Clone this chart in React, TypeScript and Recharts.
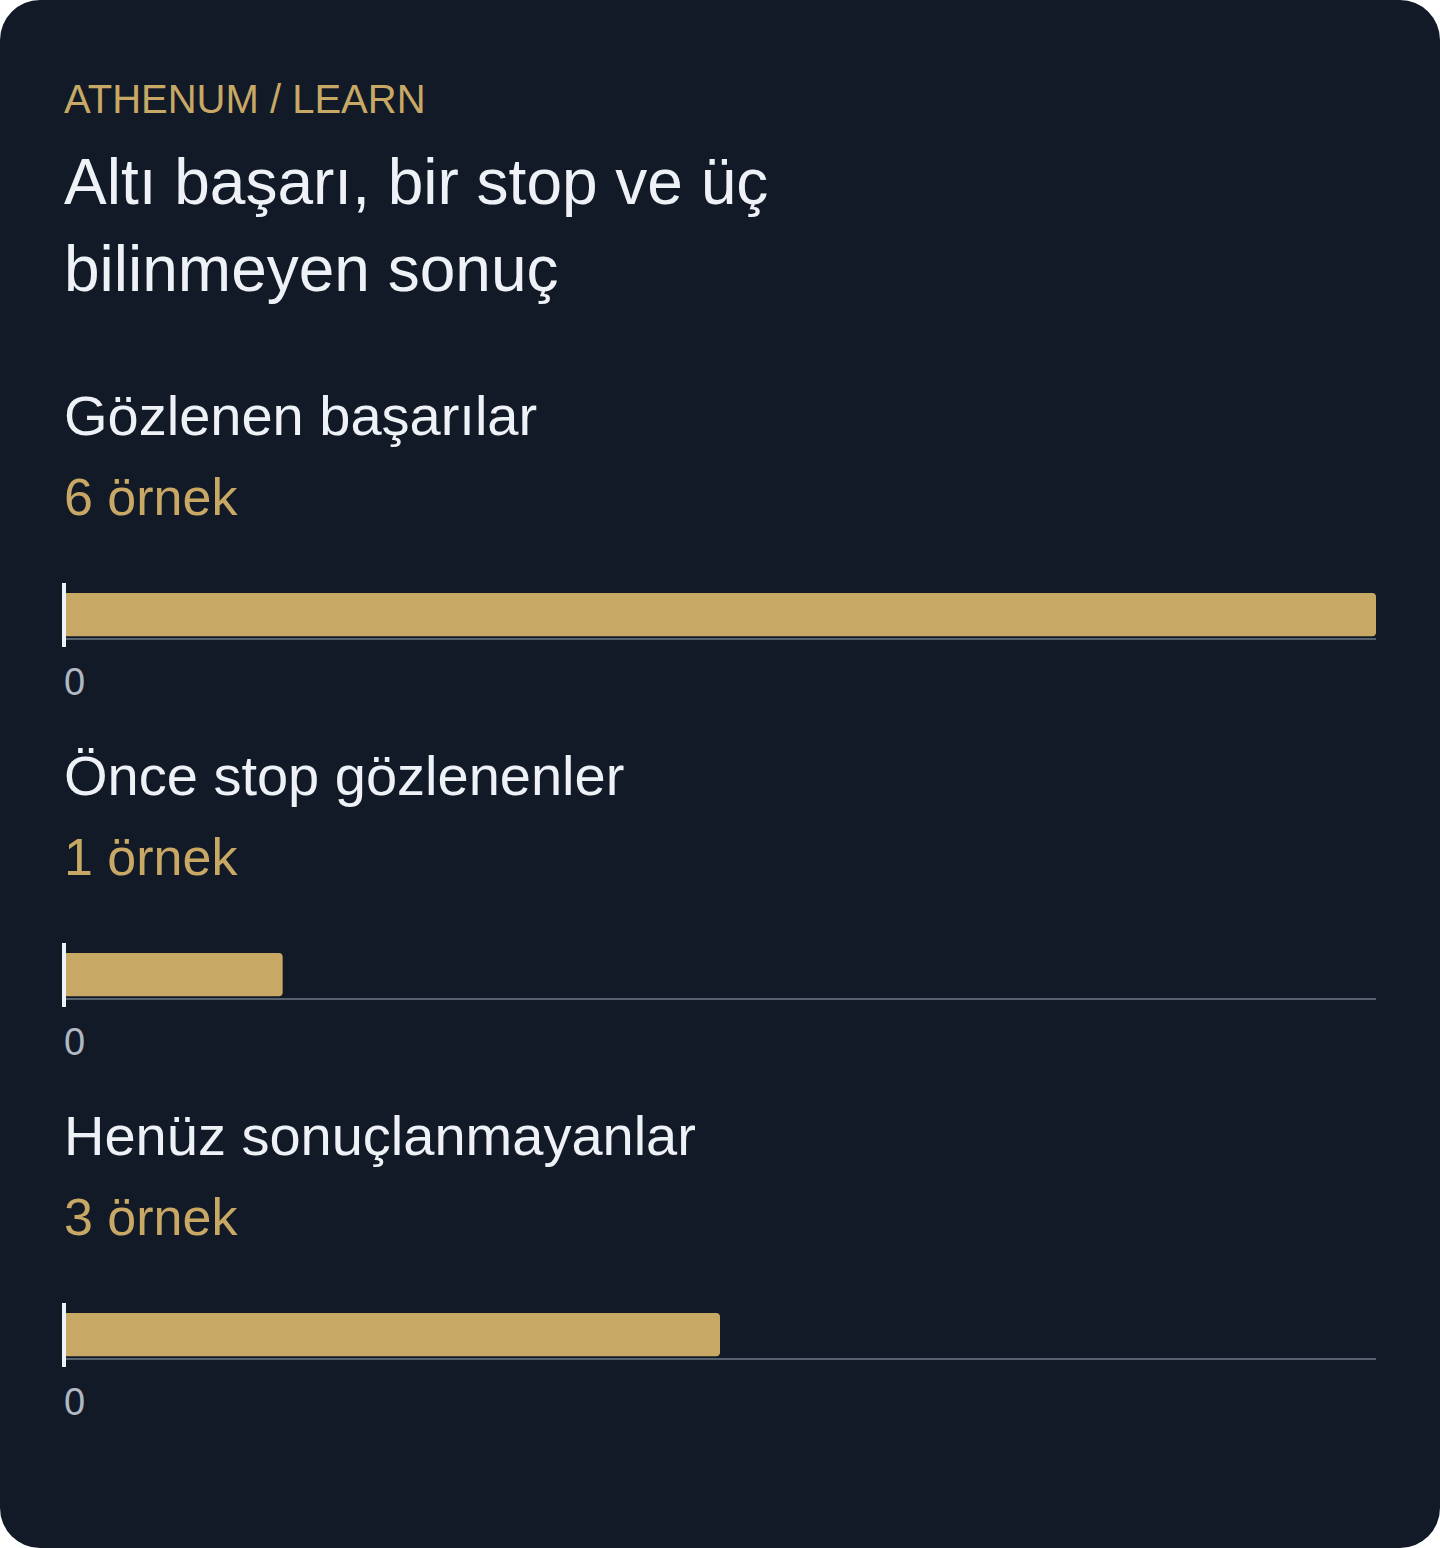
import React from 'react';
import { BarChart, Bar, XAxis, YAxis, ReferenceLine } from 'recharts';

// Sonuç grupları ve örnek sayıları
const groupNames = ['Gözlenen başarılar', 'Önce stop gözlenenler', 'Henüz sonuçlanmayanlar'];
const groupCounts = [6, 1, 3];
const xTicks = [0];
const xMax = 6;

const GOLD = '#c8a865';
const BG = '#131a27';
const TEXT = '#eef2f7';
const MUTED = '#b0b8c4';
const AXIS = '#56606e';

const ZeroMarker = (props: any) => {
  const { x1, y1, x2, y2 } = props;
  return (
    <line x1={x1} x2={x2} y1={Math.min(y1, y2) - 8} y2={Math.max(y1, y2) + 8} stroke={TEXT} strokeWidth={4} />
  );
};

const GroupChart = ({ name, count }: { name: string; count: number }) => {
  const data = [{ name, value: count }];
  return (
    <div style={{ height: 360 }}>
      <div style={{ fontSize: 56, lineHeight: '64px', color: TEXT }}>{name}</div>
      <div style={{ fontSize: 52, lineHeight: '64px', color: GOLD, marginTop: 17 }}>{count} örnek</div>
      <div style={{ marginTop: 54, marginLeft: -6 }}>
        <BarChart
          width={1318}
          height={120}
          data={data}
          layout="vertical"
          margin={{ top: 8, right: 0, bottom: 0, left: 6 }}
          barCategoryGap={0}
        >
          <YAxis type="category" dataKey="name" hide />
          <XAxis
            type="number"
            domain={[0, xMax]}
            ticks={xTicks}
            interval={0}
            height={64}
            tickLine={false}
            tickSize={6}
            tickMargin={23}
            zIndex={100}
            axisLine={{ stroke: AXIS, strokeWidth: 2 }}
            tick={{ fill: MUTED, fontSize: 38, textAnchor: 'start' }}
          />
          <Bar dataKey="value" fill={GOLD} barSize={48} radius={[0, 4, 4, 0]} isAnimationActive={false} />
          <ReferenceLine x={0} stroke={TEXT} strokeWidth={4} shape={<ZeroMarker />} />
        </BarChart>
      </div>
    </div>
  );
};

export default function App() {
  return (
    <>
      <style>{`body { margin: 0; background: #ffffff; }`}</style>
      <div
        style={{
          width: 1440,
          height: 1548,
          boxSizing: 'border-box',
          background: BG,
          borderRadius: 40,
          padding: '75px 64px 0 64px',
          fontFamily: '"Liberation Sans", Arial, sans-serif',
          overflow: 'hidden',
        }}
      >
        <div style={{ fontSize: 40, lineHeight: '48px', color: GOLD }}>ATHENUM / LEARN</div>
        <div style={{ fontSize: 64, lineHeight: '87px', color: TEXT, marginTop: 16, maxWidth: 860 }}>
          Altı başarı, bir stop ve üç bilinmeyen sonuç
        </div>
        <div style={{ marginTop: 71 }}>
          {groupNames.map((n, i) => (
            <GroupChart key={n} name={n} count={groupCounts[i]} />
          ))}
        </div>
      </div>
    </>
  );
}
